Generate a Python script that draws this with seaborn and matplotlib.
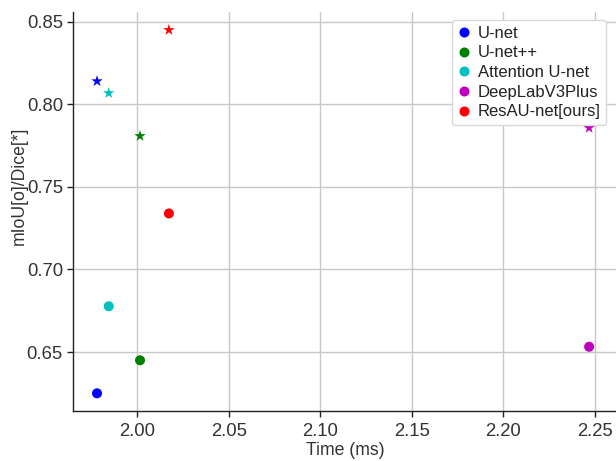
import numpy as np
import pandas as pd
import matplotlib
matplotlib.use("Agg")
import matplotlib.pyplot as plt
import seaborn as sns

# data
models = ["U-net", "U-net++", "Attention U-net", "DeepLabV3Plus", "ResAU-net[ours]"]
time_ms = [1.978, 2.0015, 1.9844, 2.247, 2.0173]
miou = [0.625, 0.645, 0.6777, 0.6532, 0.7339]
dice = [0.814, 0.7808, 0.8068, 0.7857, 0.845]
colors = ["#0000ff", "#008000", "#00bfbf", "#bf00bf", "#ff0000"]

sns.set_theme(style="whitegrid")
plt.rcParams["font.family"] = ["Liberation Sans", "DejaVu Sans"]

df_miou = pd.DataFrame({"model": models, "time": time_ms, "value": miou})
df_dice = pd.DataFrame({"model": models, "time": time_ms, "value": dice})
palette = dict(zip(models, colors))

fig = plt.figure(figsize=(6.16, 4.61), dpi=100)
ax = fig.add_axes([0.118, 0.1085, 0.885, 0.8655])

sns.scatterplot(data=df_miou, x="time", y="value", hue="model", palette=palette,
                marker="o", s=52, linewidth=0, ax=ax)
sns.scatterplot(data=df_dice, x="time", y="value", hue="model", palette=palette,
                marker="*", s=75, linewidth=0, legend=False, ax=ax)

ax.set_xlim(1.9647, 2.2627)
ax.set_ylim(0.6143, 0.8559)
ax.set_xticks([2.00, 2.05, 2.10, 2.15, 2.20, 2.25])
ax.set_yticks([0.65, 0.70, 0.75, 0.80, 0.85])
ax.xaxis.set_major_formatter(matplotlib.ticker.FormatStrFormatter("%.2f"))
ax.yaxis.set_major_formatter(matplotlib.ticker.FormatStrFormatter("%.2f"))

ax.grid(True, color="#c8c8c8", linewidth=1.0)
for side in ["top", "right"]:
    ax.spines[side].set_visible(False)
for side in ["left", "bottom"]:
    ax.spines[side].set_color("#222222")
    ax.spines[side].set_linewidth(1.0)
ax.tick_params(axis="both", which="major", direction="out", length=4, width=1,
               color="#222222", labelsize=13.3, labelcolor="#333333",
               left=True, bottom=True, pad=3)
ax.tick_params(axis="x", pad=5)

ax.set_xlabel("Time (ms)", fontsize=12.7, color="#333333", labelpad=1)
ax.set_ylabel("mIoU[o]/Dice[*]", fontsize=12.7, color="#333333")
ax.yaxis.set_label_coords(-0.082, 0.564)

leg = ax.legend(loc="upper right", bbox_to_anchor=(0.979, 0.98), borderaxespad=0,
                fontsize=12, frameon=True, handlelength=0.8, handletextpad=0.4,
                labelspacing=0.28, borderpad=0.35, fancybox=True, framealpha=1)
leg.get_frame().set_edgecolor("#d8d8d8")
for txt in leg.get_texts():
    txt.set_color("#222222")

fig.savefig("out.png", dpi=100)
